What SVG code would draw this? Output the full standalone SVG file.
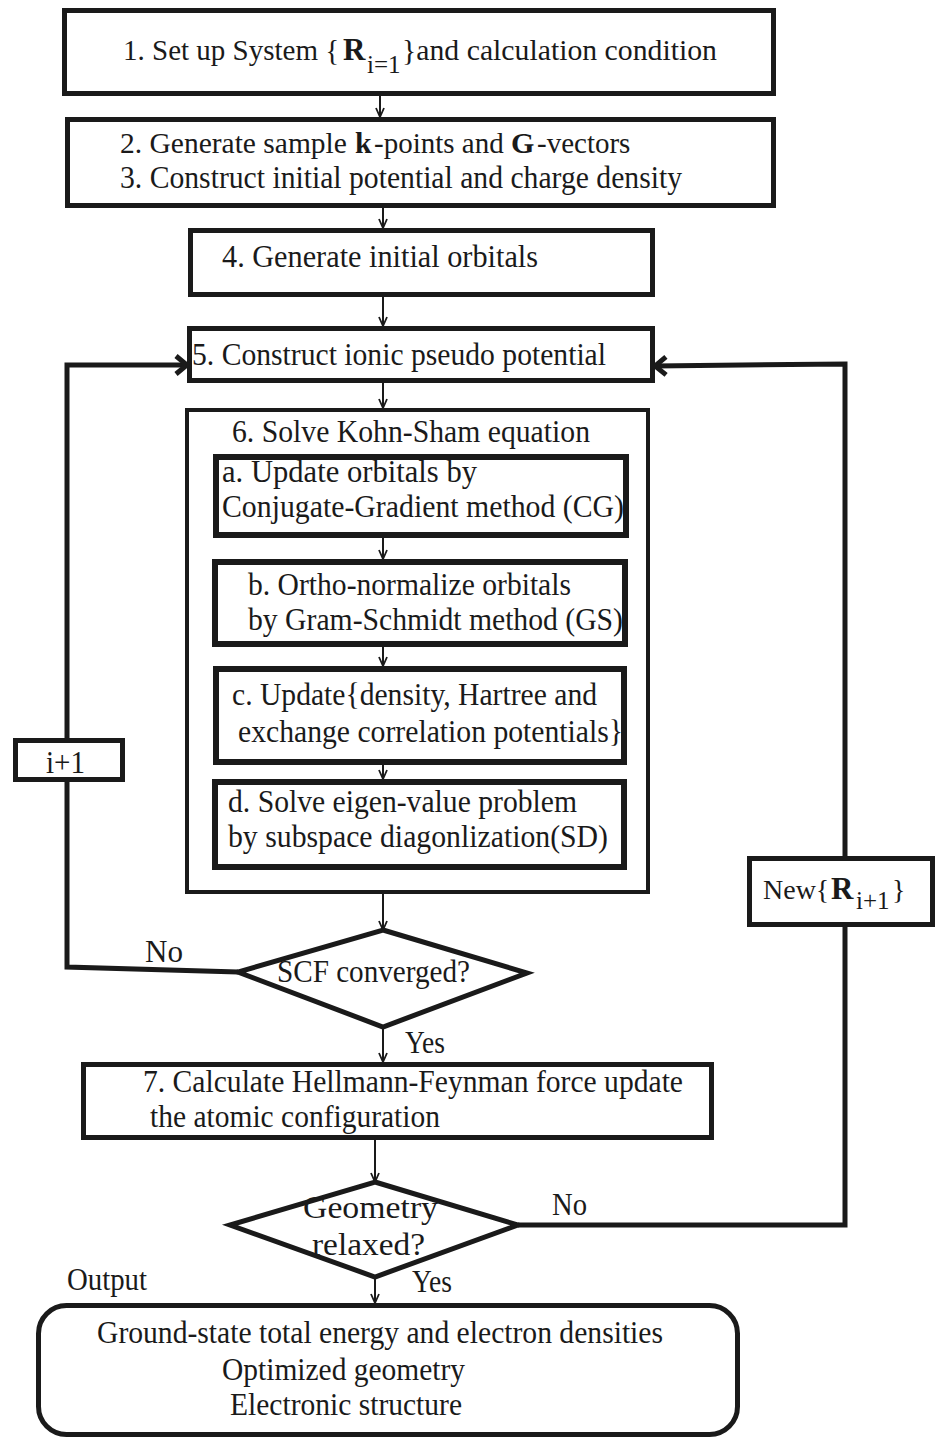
<svg xmlns="http://www.w3.org/2000/svg" width="935" height="1439" viewBox="0 0 935 1439">
<style>
text{font-family:"Liberation Serif","Times New Roman",serif;font-size:32px;fill:#1a1a1a}
.box{fill:#fff;stroke:#1a1a1a;stroke-width:5}
.outer{fill:#fff;stroke:#1a1a1a;stroke-width:4}
.sub{fill:#fff;stroke:#1a1a1a;stroke-width:6}
.thin{fill:none;stroke:#1a1a1a;stroke-width:2}
.thick{fill:none;stroke:#1a1a1a;stroke-width:5;stroke-linejoin:miter}
.b{font-weight:bold;font-size:31px}
.s{font-size:25px}
.p{font-size:29.5px}
</style>
<defs>
<marker id="a" markerUnits="userSpaceOnUse" markerWidth="12" markerHeight="12" refX="10" refY="5" orient="auto" viewBox="0 0 12 10"><path d="M1,1 L10,5 L1,9" fill="none" stroke="#1a1a1a" stroke-width="1.8"/></marker>
<marker id="ah" markerUnits="userSpaceOnUse" markerWidth="16" markerHeight="24" refX="14" refY="12" orient="auto" viewBox="0 0 16 24"><path d="M3,3 L14,12 L3,21" fill="none" stroke="#1a1a1a" stroke-width="5"/></marker>
</defs>
<g id="connectors">
<line class="thin" x1="380" y1="96" x2="380" y2="117" marker-end="url(#a)"/>
<line class="thin" x1="383" y1="208" x2="383" y2="228" marker-end="url(#a)"/>
<line class="thin" x1="383" y1="297" x2="383" y2="326" marker-end="url(#a)"/>
<line class="thin" x1="383" y1="383" x2="383" y2="408" marker-end="url(#a)"/>
<line class="thin" x1="383" y1="894" x2="383" y2="930" marker-end="url(#a)"/>
<line class="thin" x1="383" y1="1027" x2="383" y2="1062" marker-end="url(#a)"/>
<line class="thin" x1="375" y1="1140" x2="375" y2="1182" marker-end="url(#a)"/>
<line class="thin" x1="375" y1="1277" x2="375" y2="1303" marker-end="url(#a)"/>
<polyline class="thick" points="238,972 67,967 67,365 187,365" marker-end="url(#ah)"/>
<polyline class="thick" points="518,1225 845,1225 845,364 655,366" marker-end="url(#ah)"/>
</g>
<g id="n1">
<rect class="box" x="64.5" y="10.5" width="709" height="83"/>
<text class="p" x="123" y="60" style="font-size:29px">1. Set up System {</text>
<text class="b" x="343" y="60">R</text>
<text class="s" x="367" y="73">i=1</text>
<text x="402" y="60" style="font-size:30px" textLength="315" lengthAdjust="spacingAndGlyphs">}and calculation condition</text>
</g>
<g id="n2">
<rect class="box" x="67.5" y="119.5" width="706" height="86"/>
<text class="p" x="120" y="153">2. Generate sample</text>
<text class="b" x="355" y="153" style="font-size:30px">k</text>
<text x="374" y="153" style="font-size:29px">-points and</text>
<text class="b" x="511" y="153" style="font-size:30px">G</text>
<text x="537" y="153" style="font-size:29px">-vectors</text>
<text x="120" y="188" textLength="562" lengthAdjust="spacingAndGlyphs">3. Construct initial potential and charge density</text>
</g>
<g id="n4">
<rect class="box" x="190.5" y="230.5" width="462" height="64"/>
<text x="222" y="267" textLength="316" lengthAdjust="spacingAndGlyphs">4. Generate initial  orbitals</text>
</g>
<g id="n5">
<rect class="box" x="189.5" y="328.5" width="463" height="52"/>
<text x="192" y="365" textLength="414" lengthAdjust="spacingAndGlyphs">5. Construct ionic pseudo potential</text>
</g>
<g id="n6">
<rect class="outer" x="187" y="410" width="461" height="482"/>
<text x="232" y="442" textLength="358" lengthAdjust="spacingAndGlyphs">6. Solve Kohn-Sham equation</text>
<line class="thin" x1="383" y1="538" x2="383" y2="559" marker-end="url(#a)"/>
<line class="thin" x1="383" y1="647" x2="383" y2="666" marker-end="url(#a)"/>
<line class="thin" x1="383" y1="765" x2="383" y2="779" marker-end="url(#a)"/>
</g>
<g id="n6a">
<rect class="sub" x="216" y="457" width="410" height="78"/>
<text x="222" y="482" textLength="255" lengthAdjust="spacingAndGlyphs">a.  Update orbitals by</text>
<text x="222" y="517" textLength="402" lengthAdjust="spacingAndGlyphs">Conjugate-Gradient method (CG)</text>
</g>
<g id="n6b">
<rect class="sub" x="215" y="562" width="410" height="82"/>
<text x="248" y="595" textLength="323" lengthAdjust="spacingAndGlyphs">b. Ortho-normalize orbitals</text>
<text x="248" y="630" textLength="375" lengthAdjust="spacingAndGlyphs">by Gram-Schmidt method (GS)</text>
</g>
<g id="n6c">
<rect class="sub" x="216" y="669" width="408" height="93"/>
<text x="232" y="705" textLength="365" lengthAdjust="spacingAndGlyphs">c. Update{density, Hartree and</text>
<text x="238" y="742" textLength="385" lengthAdjust="spacingAndGlyphs">exchange correlation potentials}</text>
</g>
<g id="n6d">
<rect class="sub" x="215" y="782" width="409" height="85"/>
<text x="228" y="812" textLength="349" lengthAdjust="spacingAndGlyphs">d. Solve eigen-value problem</text>
<text x="228" y="847" textLength="380" lengthAdjust="spacingAndGlyphs">by subspace diagonlization(SD)</text>
</g>
<g id="inc">
<rect class="box" x="15.5" y="740.5" width="107" height="39"/>
<text x="46" y="773" textLength="39" lengthAdjust="spacingAndGlyphs">i+1</text>
</g>
<g id="newR">
<rect class="box" x="749.5" y="858.5" width="183" height="66"/>
<text x="763" y="899" style="font-size:28px">New{</text>
<text class="b" x="831" y="899">R</text>
<text class="s" x="856" y="909">i+1</text>
<text x="892" y="899" style="font-size:28px">}</text>
</g>
<g id="scf">
<polygon class="box" points="383,930 527,973 383,1027 238,972"/>
<text x="277" y="982" textLength="193" lengthAdjust="spacingAndGlyphs">SCF converged?</text>
<text x="145" y="962" textLength="38" lengthAdjust="spacingAndGlyphs">No</text>
<text x="405" y="1053" textLength="40" lengthAdjust="spacingAndGlyphs">Yes</text>
</g>
<g id="n7">
<rect class="box" x="83.5" y="1064.5" width="628" height="73"/>
<text x="143" y="1092" textLength="540" lengthAdjust="spacingAndGlyphs">7. Calculate Hellmann-Feynman force update</text>
<text x="150" y="1127" textLength="290" lengthAdjust="spacingAndGlyphs">the atomic configuration</text>
</g>
<g id="geo">
<polygon class="box" points="375,1182 518,1225 375,1277 230,1225"/>
<text x="303" y="1218" textLength="135" lengthAdjust="spacingAndGlyphs">Geometry</text>
<text x="312" y="1255" textLength="113" lengthAdjust="spacingAndGlyphs">relaxed?</text>
<text x="552" y="1215" textLength="35" lengthAdjust="spacingAndGlyphs">No</text>
<text x="412" y="1292" textLength="40" lengthAdjust="spacingAndGlyphs">Yes</text>
</g>
<g id="out">
<text x="67" y="1290" textLength="80" lengthAdjust="spacingAndGlyphs">Output</text>
<rect class="box" x="38.5" y="1305.5" width="699" height="129" rx="28"/>
<text x="97" y="1343" textLength="566" lengthAdjust="spacingAndGlyphs">Ground-state total energy and electron densities</text>
<text x="222" y="1380" textLength="243" lengthAdjust="spacingAndGlyphs">Optimized geometry</text>
<text x="230" y="1415" textLength="232" lengthAdjust="spacingAndGlyphs">Electronic structure</text>
</g>
</svg>
